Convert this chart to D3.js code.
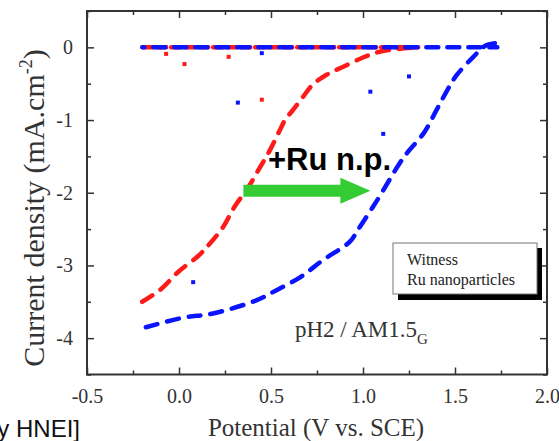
<!DOCTYPE html>
<html>
<head>
<meta charset="utf-8">
<script src="https://cdn.jsdelivr.net/npm/d3@7"></script>
<style>
  html, body { margin: 0; padding: 0; background: #fff; }
  svg { display: block; }
</style>
</head>
<body>
<svg id="chart" width="559" height="441"></svg>
<script>
// Photocurrent vs. potential, pH2 under AM1.5G illumination

// Witness electrode: forward scan (potential V vs. SCE, current density mA/cm2)
const witnessPotential = [-0.20, -0.10, 0.00, 0.10, 0.15, 0.24, 0.30, 0.375, 0.44, 0.495, 0.55, 0.576, 0.62, 0.674, 0.728, 0.80, 0.89, 1.00, 1.09, 1.20, 1.30];
const witnessCurrent   = [-3.50, -3.33, -3.08, -2.88, -2.75, -2.47, -2.20, -1.93, -1.65, -1.41, -1.13, -1.00, -0.86, -0.68, -0.51, -0.38, -0.27, -0.14, -0.06, -0.02, 0.00];

// Ru nanoparticles electrode: forward scan
const ruPotential = [-0.18, 0.02, 0.185, 0.42, 0.53, 0.66, 0.78, 0.93, 0.97, 1.055, 1.09, 1.20, 1.24, 1.33, 1.40, 1.46, 1.51, 1.60, 1.67, 1.73];
const ruCurrent   = [-3.85, -3.72, -3.66, -3.48, -3.34, -3.16, -2.93, -2.67, -2.52, -2.19, -2.05, -1.59, -1.45, -1.18, -0.86, -0.58, -0.38, -0.13, 0.03, 0.06];

// Return (dark) scans along zero current
const witnessReturnPotential = [1.30, -0.20];
const witnessReturnCurrent   = [0.00, 0.00];
const ruReturnPotential = [1.73, -0.20];
const ruReturnCurrent   = [0.00, 0.00];

// Isolated sampled points
const witnessDotPotential = [-0.07, 0.03, 0.27, 0.45];
const witnessDotCurrent   = [-0.09, -0.23, -0.13, -0.72];
const ruDotPotential = [0.45, 0.32, 1.04, 1.25, 1.11, 0.077];
const ruDotCurrent   = [-0.08, -0.76, -0.61, -0.40, -1.19, -3.23];

// Axis ticks
const xMajorTicks = [-0.5, 0.0, 0.5, 1.0, 1.5, 2.0];
const xMinorTicks = [-0.25, 0.25, 0.75, 1.25, 1.75];
const yMajorTicks = [-4, -3, -2, -1, 0];
const yMinorTicks = [-4.5, -3.5, -2.5, -1.5, -0.5, 0.5];

const legendLabels = ["Witness", "Ru nanoparticles"];

// Onset shift arrow, in data units
const arrowFrom = [0.35, -2.0];
const arrowTo = [1.04, -2.0];

const svg = d3.select("#chart");
const plotLeft = 87, plotRight = 547, plotTop = 11, plotBottom = 374.5;

const x = d3.scaleLinear().domain([-0.5, 2.0]).range([plotLeft, plotRight]);
const y = d3.scaleLinear().domain([-4.5, 0.5]).range([plotBottom, plotTop]);

const axisColor = "#333";
const serif = "'Liberation Serif', 'Times New Roman', serif";
const sans = "'Liberation Sans', Arial, sans-serif";

// Axes with inward ticks on all four sides
function styleAxis(g) {
  g.select(".domain").remove();
  g.selectAll(".tick line").attr("stroke", axisColor).attr("stroke-width", 1.5);
  g.selectAll(".tick text").attr("fill", axisColor).attr("font-family", serif).attr("font-size", 20);
}

const fmtX = v => (v < 0 ? "-" : "") + Math.abs(v).toFixed(1);
const fmtY = v => (v < 0 ? "-" : "") + Math.abs(v);

svg.append("g").attr("transform", `translate(0,${plotBottom})`)
  .call(d3.axisBottom(x).tickValues(xMajorTicks).tickFormat(fmtX).tickSizeInner(-7).tickSizeOuter(0).tickPadding(14))
  .call(styleAxis);
svg.append("g").attr("transform", `translate(0,${plotBottom})`)
  .call(d3.axisBottom(x).tickValues(xMinorTicks).tickFormat("").tickSizeInner(-4).tickSizeOuter(0))
  .call(styleAxis);
svg.append("g").attr("transform", `translate(0,${plotTop})`)
  .call(d3.axisTop(x).tickValues(xMajorTicks).tickFormat("").tickSizeInner(-7).tickSizeOuter(0))
  .call(styleAxis);
svg.append("g").attr("transform", `translate(0,${plotTop})`)
  .call(d3.axisTop(x).tickValues(xMinorTicks).tickFormat("").tickSizeInner(-4).tickSizeOuter(0))
  .call(styleAxis);
svg.append("g").attr("transform", `translate(${plotLeft},0)`)
  .call(d3.axisLeft(y).tickValues(yMajorTicks).tickFormat(fmtY).tickSizeInner(-7).tickSizeOuter(0).tickPadding(14))
  .call(styleAxis);
svg.append("g").attr("transform", `translate(${plotLeft},0)`)
  .call(d3.axisLeft(y).tickValues(yMinorTicks).tickFormat("").tickSizeInner(-4).tickSizeOuter(0))
  .call(styleAxis);
svg.append("g").attr("transform", `translate(${plotRight},0)`)
  .call(d3.axisRight(y).tickValues(yMajorTicks).tickFormat("").tickSizeInner(-7).tickSizeOuter(0))
  .call(styleAxis);
svg.append("g").attr("transform", `translate(${plotRight},0)`)
  .call(d3.axisRight(y).tickValues(yMinorTicks).tickFormat("").tickSizeInner(-4).tickSizeOuter(0))
  .call(styleAxis);

// Plot frame
svg.append("rect")
  .attr("x", plotLeft).attr("y", plotTop)
  .attr("width", plotRight - plotLeft).attr("height", plotBottom - plotTop)
  .attr("fill", "none").attr("stroke", axisColor).attr("stroke-width", 2);

// Axis titles
svg.append("text")
  .attr("x", 316).attr("y", 436)
  .attr("text-anchor", "middle")
  .attr("font-family", serif).attr("font-size", 25).attr("fill", axisColor)
  .text("Potential (V vs. SCE)");

const yTitle = svg.append("text")
  .attr("transform", "translate(44,208) rotate(-90)")
  .attr("text-anchor", "middle")
  .attr("font-family", serif).attr("font-size", 30).attr("fill", axisColor);
yTitle.append("tspan").text("Current density (mA.cm");
yTitle.append("tspan").attr("font-size", 18).attr("dy", -12).text("-2");
yTitle.append("tspan").attr("dy", 12).text(")");

// Curves
const line = d3.line().x(d => x(d[0])).y(d => y(d[1])).curve(d3.curveCatmullRom.alpha(0.5));
const zip = (a, b) => a.map((v, i) => [v, b[i]]);

const red = "#ff1a1a", blue = "#0a14ff";

function dashed(pts, color, dash, offset) {
  svg.append("path")
    .attr("d", line(pts))
    .attr("fill", "none")
    .attr("stroke", color)
    .attr("stroke-width", 4.5)
    .attr("stroke-linecap", "round")
    .attr("stroke-dasharray", dash)
    .attr("stroke-dashoffset", offset || 0);
}

dashed(zip(witnessReturnPotential, witnessReturnCurrent), red, "9 5");
dashed(zip(witnessPotential, witnessCurrent), red, "12 10");
dashed(zip(ruReturnPotential, ruReturnCurrent), blue, "12 9", 4);
dashed(zip(ruPotential, ruCurrent), blue, "12 10");

function dots(px, py, color) {
  svg.append("g").selectAll("rect")
    .data(zip(px, py))
    .join("rect")
    .attr("x", d => x(d[0]) - 2).attr("y", d => y(d[1]) - 2)
    .attr("width", 4).attr("height", 4)
    .attr("fill", color);
}
dots(witnessDotPotential, witnessDotCurrent, red);
dots(ruDotPotential, ruDotCurrent, blue);

// Annotation: shift of onset with Ru nanoparticles
svg.append("text")
  .attr("x", 268).attr("y", 170)
  .attr("font-family", sans).attr("font-weight", "bold").attr("font-size", 31).attr("fill", "#000")
  .text("+Ru n.p.");

const ax0 = x(arrowFrom[0]), ax1 = x(arrowTo[0]), ay = y(arrowFrom[1]) - 2;
const headLen = 30, headHalf = 13, shaftHalf = 6;
svg.append("path")
  .attr("d", `M${ax0},${ay - shaftHalf} L${ax1 - headLen},${ay - shaftHalf} L${ax1 - headLen},${ay - headHalf} L${ax1},${ay} L${ax1 - headLen},${ay + headHalf} L${ax1 - headLen},${ay + shaftHalf} L${ax0},${ay + shaftHalf} Z`)
  .attr("fill", "#33cc33");

// Legend box with drop shadow
svg.append("rect").attr("x", 398).attr("y", 248).attr("width", 144).attr("height", 52).attr("fill", "#000");
svg.append("rect").attr("x", 393).attr("y", 243).attr("width", 144).attr("height", 51)
  .attr("fill", "#fff").attr("stroke", "#777").attr("stroke-width", 1);
svg.append("g").selectAll("text")
  .data(legendLabels)
  .join("text")
  .attr("x", 407).attr("y", (d, i) => 265 + i * 20)
  .attr("font-family", serif).attr("font-size", 16).attr("fill", "#222")
  .text(d => d);

// Condition label
const cond = svg.append("text")
  .attr("x", 295).attr("y", 337)
  .attr("font-family", serif).attr("font-size", 23).attr("fill", axisColor);
cond.append("tspan").text("pH2 / AM1.5");
cond.append("tspan").attr("font-size", 15).attr("dy", 7).text("G");

// Source credit
svg.append("text")
  .attr("x", 80).attr("y", 437)
  .attr("text-anchor", "end")
  .attr("font-family", sans).attr("font-size", 24).attr("fill", "#111")
  .text("[Courtesy HNEI]");
</script>
</body>
</html>
